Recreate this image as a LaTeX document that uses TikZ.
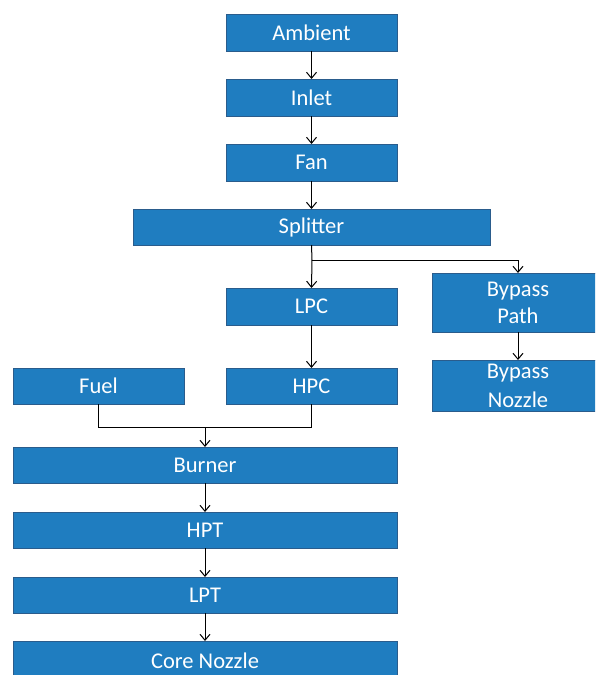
\documentclass[tikz,border=0pt]{standalone}
\usepackage{fontspec}
\setmainfont{Carlito}
\usetikzlibrary{arrows.meta}
\definecolor{boxfill}{RGB}{31,125,192}
\definecolor{boxline}{RGB}{42,92,140}
\tikzset{
  blk/.style={draw=boxline, line width=1pt, fill=boxfill},
  blktext/.style={inner sep=0pt, text=white, font=\fontsize{22.5}{26}\selectfont, align=center},
  conn/.style={draw=black, line width=1pt},
  arr/.style={conn, -{Straight Barb[length=6pt,width=10pt,line width=1pt]}},
}
\newcommand{\blkbox}[6]{% name, x1, y1, x2, y2, text
  \path[blk] (#2,#3) rectangle (#4,#5);
  \node[blktext] (#1) at ({(#2+#4)/2},{(#3+#5)/2}) {#6};
  \coordinate (#1-t) at ({(#2+#4)/2},#3);
  \coordinate (#1-b) at ({(#2+#4)/2},#5);
}
\begin{document}
\begin{tikzpicture}[x=1pt,y=-1pt]
\useasboundingbox (0,0) rectangle (595,675);
\begin{scope}
\clip (0,0) rectangle (595,675);
\blkbox{amb}{226}{14}{397}{51}{Ambient}
\blkbox{inl}{226}{79}{397}{116}{Inlet}
\blkbox{fan}{226}{144}{397}{181}{Fan}
\blkbox{spl}{133}{209}{490}{245}{Splitter}
\blkbox{lpc}{226}{288}{397}{325}{LPC}
\blkbox{byp}{432}{273}{604}{332}{Bypass\\[1pt]Path}
\blkbox{byn}{432}{360}{604}{411}{Bypass\\[3pt]Nozzle}
\blkbox{fuel}{13}{368}{184}{404}{Fuel}
\blkbox{hpc}{226}{368}{397}{404}{HPC}
\blkbox{bur}{13}{447}{397}{483}{Burner}
\blkbox{hpt}{13}{512}{397}{548}{HPT}
\blkbox{lpt}{13}{577}{397}{613}{LPT}
\blkbox{core}{13}{641}{397}{681}{Core Nozzle}
\end{scope}
\coordinate (split) at (312,260);
\coordinate (mix) at (205,427);
\draw[arr] (amb-b) -- (inl-t);
\draw[arr] (inl-b) -- (fan-t);
\draw[arr] (fan-b) -- (spl-t);
\draw[conn] (spl-b) -- (split);
\draw[arr] (split) -- (lpc-t);
\draw[arr] (split) -| (byp-t);
\draw[arr] (byp-b) -- (byn-t);
\draw[arr] (lpc-b) -- (hpc-t);
\draw[conn] (fuel-b) |- (mix);
\draw[conn] (hpc-b) |- (mix);
\draw[arr] (mix) -- (bur-t);
\draw[arr] (bur-b) -- (hpt-t);
\draw[arr] (hpt-b) -- (lpt-t);
\draw[arr] (lpt-b) -- (core-t);
\end{tikzpicture}
\end{document}
